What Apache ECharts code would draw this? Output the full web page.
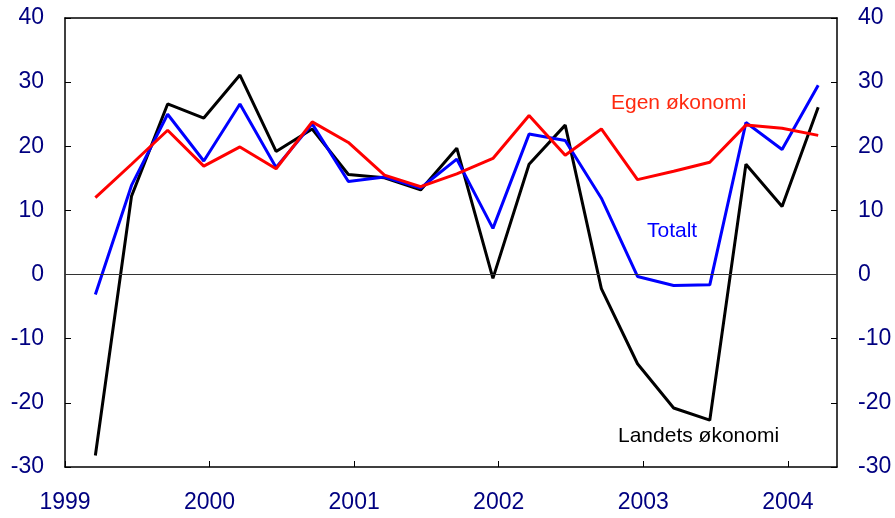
<!DOCTYPE html>
<html>
<head>
<meta charset="utf-8">
<script src="https://cdn.jsdelivr.net/npm/echarts@6/dist/echarts.min.js"></script>
<style>
  html, body { margin: 0; padding: 0; background: #fff; }
  #chart { width: 895px; height: 518px; }
</style>
</head>
<body>
<div id="chart"></div>
<script>
// kvartaler, plassert som desimalår
const periods = [1999.21, 1999.46, 1999.71, 1999.96, 2000.21, 2000.46, 2000.71, 2000.96,
  2001.21, 2001.46, 2001.71, 2001.96, 2002.21, 2002.46, 2002.71, 2002.96,
  2003.21, 2003.46, 2003.71, 2003.96, 2004.21];
const totalt = [-3.1, 13.9, 25.0, 17.7, 26.6, 16.7, 23.5, 14.5, 15.2, 13.5, 18.0, 7.2,
  21.9, 20.9, 11.9, -0.3, -1.7, -1.6, 23.7, 19.5, 29.5];
const egen = [12.0, 17.2, 22.5, 16.9, 19.9, 16.5, 23.8, 20.6, 15.5, 13.7, 15.7, 18.1,
  24.8, 18.6, 22.7, 14.8, 16.1, 17.5, 23.3, 22.8, 21.7];
const landets = [-28.2, 12.2, 26.6, 24.4, 31.1, 19.2, 22.7, 15.6, 15.1, 13.2, 19.7, -0.6,
  17.2, 23.3, -2.2, -13.9, -20.8, -22.7, 17.2, 10.6, 26.1];
const yearTicks = [1999, 2000, 2001, 2002, 2003, 2004];

const chart = echarts.init(document.getElementById('chart'));

const navy = '#000080';
const axisFont = { color: navy, fontSize: 23, fontFamily: 'Liberation Sans' };
const frame = { show: true, onZero: false, lineStyle: { color: '#000', width: 1.5 } };

function pairs(vals) {
  return periods.map((p, i) => [p, vals[i]]);
}

const yAxisBase = {
  type: 'value',
  min: -30,
  max: 40,
  interval: 10,
  axisLine: frame,
  axisTick: { show: true, inside: true, length: 6, lineStyle: { color: '#000' } },
  splitLine: { show: false },
  axisLabel: Object.assign({ margin: 21 }, axisFont)
};

chart.setOption({
  animation: false,
  grid: { left: 65, right: 58, top: 18, bottom: 51 },
  xAxis: [{
    type: 'value',
    position: 'bottom',
    min: 1999,
    max: 2004.34,
    interval: 1,
    axisLine: frame,
    axisTick: { show: true, inside: true, length: 6, lineStyle: { color: '#000' } },
    splitLine: { show: false },
    axisLabel: Object.assign({
      margin: 24,
      showMaxLabel: false,
      formatter: v => (yearTicks.includes(v) ? String(v) : '')
    }, axisFont)
  }, {
    type: 'value',
    position: 'top',
    min: 1999,
    max: 2004.34,
    axisLine: frame,
    axisTick: { show: false },
    axisLabel: { show: false },
    splitLine: { show: false }
  }],
  yAxis: [
    Object.assign({ position: 'left' }, yAxisBase),
    Object.assign({ position: 'right' }, yAxisBase)
  ],
  series: [{
    name: 'Landets økonomi',
    type: 'line',
    data: pairs(landets),
    symbol: 'none',
    lineStyle: { color: '#000', width: 3 },
    z: 3,
    markLine: {
      silent: true,
      symbol: 'none',
      label: { show: false },
      lineStyle: { color: '#333', width: 1, type: 'solid' },
      data: [{ yAxis: 0 }]
    }
  }, {
    name: 'Totalt',
    type: 'line',
    data: pairs(totalt),
    symbol: 'none',
    lineStyle: { color: '#0000ff', width: 3 },
    z: 4
  }, {
    name: 'Egen økonomi',
    type: 'line',
    data: pairs(egen),
    symbol: 'none',
    lineStyle: { color: '#ff0000', width: 3 },
    z: 5
  }],
  graphic: [
    { type: 'text', left: 611, top: 93, style: { text: 'Egen økonomi', fill: '#ff2a10', font: '21px "Liberation Sans"' } },
    { type: 'text', left: 647, top: 221, style: { text: 'Totalt', fill: '#0000ff', font: '21px "Liberation Sans"' } },
    { type: 'text', left: 618, top: 426, style: { text: 'Landets økonomi', fill: '#000', font: '21px "Liberation Sans"' } }
  ]
});
</script>
</body>
</html>
